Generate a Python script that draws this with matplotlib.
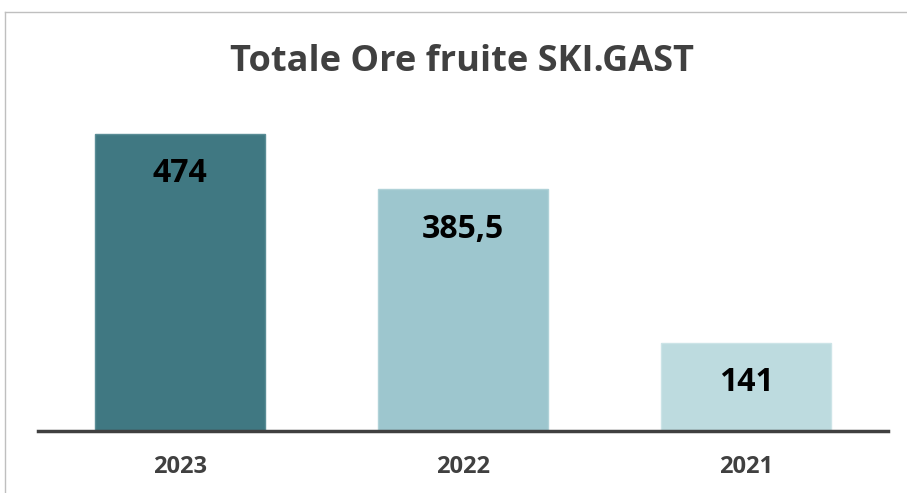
import matplotlib.pyplot as plt
from matplotlib.lines import Line2D

years = ["2023", "2022", "2021"]
ore = [474, 385.5, 141]
labels = ["474", "385,5", "141"]
colori = ["#407882", "#9dc6ce", "#bddbdf"]

W, H = 907, 493
fig = plt.figure(figsize=(W / 100, H / 100), dpi=100)
plt.rcParams['font.family'] = ['Open Sans', 'DejaVu Sans']

# axes placed in pixel terms: baseline at y=431, x from 38 to 888
ax = fig.add_axes([38 / W, (H - 431) / H, 850 / W, (431 - 100) / H])
ax.bar(range(len(years)), ore, width=0.6, color=colori,
       edgecolor=["#5a8d96", "#b0d2d8", "#cce4e7"], linewidth=1)
ax.set_xlim(-0.5, 2.5)
ax.set_ylim(0, (431 - 100) / (297 / 474))

for i, v in enumerate(ore):
    ax.annotate(labels[i], (i, v), xytext=(0, -40), textcoords="offset pixels",
                ha="center", va="center", fontsize=23, fontweight="bold", color="black")

ax.set_xticks(range(len(years)))
ax.set_xticklabels(years, fontsize=17, fontweight="bold", color="#404040")
ax.tick_params(axis="x", length=0, pad=17)
ax.set_yticks([])
for s in ["top", "right", "left"]:
    ax.spines[s].set_visible(False)
ax.spines["bottom"].set_color("#404040")
ax.spines["bottom"].set_linewidth(2.5)

fig.text(462 / W, 1 - 62 / H, "Totale Ore fruite SKI.GAST", ha="center", va="center",
         fontsize=26, fontweight="bold", color="#404040")

# light frame at the top and left
fig.add_artist(Line2D([5 / W, 5 / W], [0, 1 - 12 / H], color="#bfbfbf", lw=1, transform=fig.transFigure))
fig.add_artist(Line2D([5 / W, 1], [1 - 12 / H, 1 - 12 / H], color="#bfbfbf", lw=1, transform=fig.transFigure))

fig.savefig("out.png", dpi=100)
